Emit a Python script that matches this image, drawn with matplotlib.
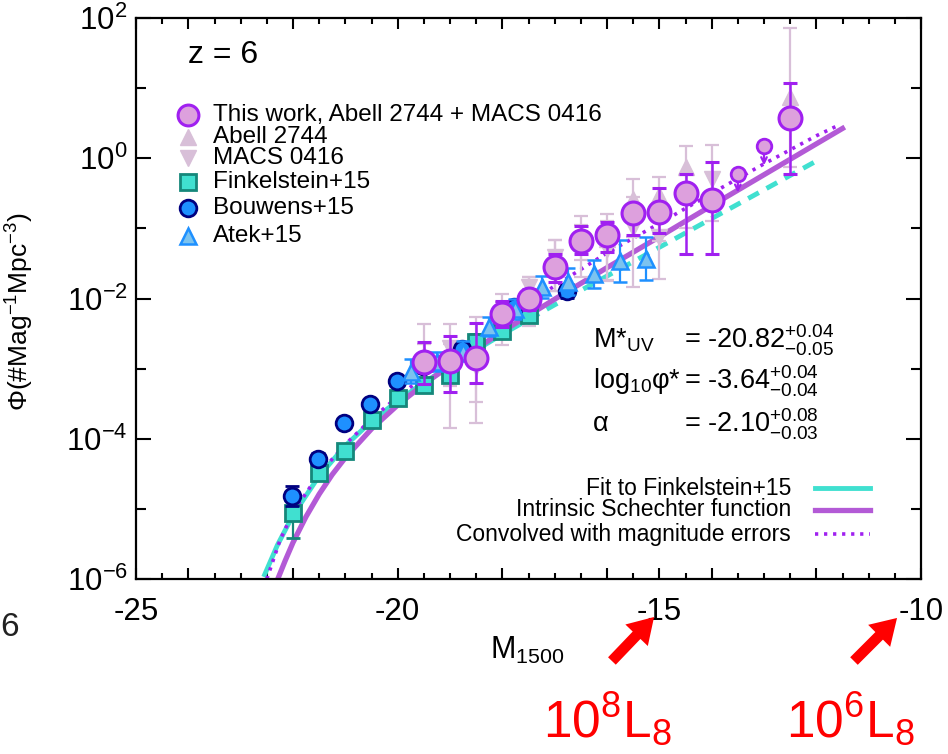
import numpy as np
import matplotlib
matplotlib.use('Agg')
import matplotlib.pyplot as plt
from matplotlib.lines import Line2D
from matplotlib.ticker import FixedLocator, NullFormatter, FixedFormatter

plt.rcParams['font.family'] = ['Liberation Sans', 'DejaVu Sans']
plt.rcParams['mathtext.fontset'] = 'custom'
plt.rcParams['mathtext.rm'] = 'Liberation Sans'
plt.rcParams['mathtext.it'] = 'Liberation Sans:italic'
plt.rcParams['mathtext.bf'] = 'Liberation Sans:bold'
plt.rcParams['mathtext.sf'] = 'Liberation Sans'

# ---------------- data (log10 Phi) ----------------
this_M = [-19.5, -19.0, -18.5, -18.0, -17.5, -17.0, -16.5, -16.0, -15.5, -15.0, -14.5, -14.0, -12.5]
this_logphi = [-2.91, -2.89, -2.85, -2.22, -2.01, -1.55, -1.18, -1.10, -0.78, -0.77, -0.50, -0.60, 0.57]
this_up = [0.29, 0.35, 0.50, 0.19, 0.15, 0.19, 0.22, 0.19, 0.13, 0.34, 0.28, 0.55, 0.51]
this_dn = [0.31, 0.45, 0.35, 0.19, 0.16, 0.22, 0.19, 0.24, 0.32, 0.30, 0.86, 0.76, 0.79]

lim_M = [-13.5, -13.0]
lim_logphi = [-0.22, 0.17]

abell_M = [-19.5, -19.0, -18.5, -18.0, -17.5, -17.0, -16.5, -16.0, -15.5, -15.0, -14.5, -12.5]
abell_logphi = [-2.80, -2.95, -2.80, -2.15, -1.95, -1.50, -1.05, -1.15, -0.58, -0.53, -0.12, 0.88]
abell_up = [0.43, 0.30, 0.53, 0.21, 0.26, 0.34, 0.23, 0.36, 0.28, 0.26, 0.29, 0.98]
abell_dn = [0.50, 0.30, 0.97, 0.30, 0.33, 0.40, 0.40, 0.60, 0.55, 0.65, 0.88, 1.00]

macs_M = [-19.5, -19.0, -18.5, -18.0, -17.5, -17.0, -16.5, -16.0, -15.5, -15.0, -14.0]
macs_logphi = [-2.95, -2.70, -2.98, -2.35, -1.84, -1.41, -1.25, -1.30, -1.00, -1.12, -0.29]
macs_up = [0.30, 0.33, 0.40, 0.30, 0.15, 0.24, 0.30, 0.40, 0.45, 0.45, 0.48]
macs_dn = [0.35, 1.15, 0.50, 0.32, 0.55, 0.48, 0.45, 0.44, 0.84, 0.60, 0.60]

fink_M = [-22.0, -21.5, -21.0, -20.5, -20.0, -19.5, -19.0, -18.5, -18.0, -17.5]
fink_logphi = [-5.06, -4.49, -4.17, -3.73, -3.42, -3.24, -3.09, -2.62, -2.46, -2.24]
fink_up = [0.22, 0.10, 0.06, 0.06, 0.05, 0.05, 0.10, 0.12, 0.08, 0.08]
fink_dn = [0.35, 0.10, 0.06, 0.06, 0.05, 0.05, 0.10, 0.12, 0.08, 0.08]

bouw_M = [-22.02, -21.52, -21.02, -20.52, -20.02, -19.52, -18.77, -17.77, -16.77]
bouw_logphi = [-4.82, -4.29, -3.77, -3.50, -3.17, -2.96, -2.72, -2.12, -1.89]
bouw_err = [0.14, 0.08, 0.05, 0.05, 0.05, 0.06, 0.07, 0.08, 0.10]

atek_M = [-19.75, -19.25, -18.75, -18.25, -17.75, -17.25, -16.75, -16.25, -15.75, -15.25]
atek_logphi = [-3.05, -2.91, -2.76, -2.40, -2.15, -1.84, -1.77, -1.65, -1.46, -1.43]
atek_up = [0.19, 0.15, 0.15, 0.14, 0.15, 0.16, 0.20, 0.20, 0.30, 0.30]
atek_dn = [0.15, 0.13, 0.13, 0.13, 0.14, 0.15, 0.18, 0.20, 0.30, 0.30]

# curves
fitF_M = [-22.56, -22.3, -22.0, -21.5, -21.0, -20.5, -20.0, -19.5, -19.0, -18.0, -17.5]
fitF_logphi = [-5.97, -5.52, -5.09, -4.53, -4.10, -3.75, -3.46, -3.20, -2.96, -2.51, -2.30]
fitF_dash_M = [-17.5, -17.0, -16.0, -15.0, -14.0, -13.0, -12.0]
fitF_dash_logphi = [-2.30, -2.09, -1.68, -1.27, -0.86, -0.45, -0.04]

intr_M = [-22.28, -22.15, -22.0, -21.75, -21.5, -21.25, -21.0, -20.5, -20.0, -19.5, -19.0,
          -18.0, -17.0, -16.0, -15.0, -14.0, -13.0, -12.0, -11.5]
intr_logphi = [-5.98, -5.74, -5.48, -5.11, -4.79, -4.51, -4.27, -3.86, -3.52, -3.22, -2.96,
               -2.47, -2.01, -1.56, -1.12, -0.675, -0.235, 0.205, 0.425]

conv_M = [-22.5, -22.25, -22.0, -21.5, -21.0, -20.5, -20.0, -19.5, -19.0, -18.0, -17.0,
          -16.0, -15.0, -14.0, -13.0, -12.0, -11.55]
conv_logphi = [-6.0, -5.45, -5.05, -4.50, -4.08, -3.72, -3.40, -3.12, -2.85, -2.33, -1.82,
               -1.35, -0.93, -0.50, -0.08, 0.32, 0.48]

# ---------------- figure ----------------
W, H = 948, 754
fig = plt.figure(figsize=(W / 100, H / 100), dpi=100)
fx = lambda px: px / W
fy = lambda py: 1 - py / H
ax = fig.add_axes([fx(136), fy(579), fx(921) - fx(136), fy(18) - fy(579)])
ax.set_yscale('log')
ax.set_xlim(-25, -10)
ax.set_ylim(1e-6, 1e2)


def lin(v):
    return 10 ** np.asarray(v, dtype=float)


def aerr(logy, up, dn):
    ly = np.asarray(logy, float)
    return [10 ** ly - 10 ** (ly - np.asarray(dn)), 10 ** (ly + np.asarray(up)) - 10 ** ly]


PURPLE = '#a020f0'
PLUM = '#dda0dd'
THISTLE = '#d8bfd8'
TEAL = '#40e0d0'
DTEAL = '#15877a'
ORCHID = '#b35ad6'

# curves
ax.plot(fitF_M, lin(fitF_logphi), color=TEAL, lw=3.5, zorder=2, solid_capstyle='butt')
ax.plot(fitF_dash_M, lin(fitF_dash_logphi), color=TEAL, lw=3.5, ls=(0, (2.5, 1.8)), zorder=2)
ax.plot(intr_M, lin(intr_logphi), color=ORCHID, lw=3.8, zorder=2.1)
ax.plot(conv_M, lin(conv_logphi), color=PURPLE, lw=2.6, ls=(0, (0.9, 1.6)), zorder=2.2)

# lensing-field points (background)
ax.errorbar(abell_M, lin(abell_logphi), yerr=aerr(abell_logphi, abell_up, abell_dn), fmt='^',
            ms=11, mfc=THISTLE, mec=THISTLE, ecolor=THISTLE, elinewidth=1.6, capsize=5,
            capthick=1.6, zorder=3)
ax.errorbar(macs_M, lin(macs_logphi), yerr=aerr(macs_logphi, macs_up, macs_dn), fmt='v',
            ms=11, mfc=THISTLE, mec=THISTLE, ecolor=THISTLE, elinewidth=1.6, capsize=5,
            capthick=1.6, zorder=3)

ax.errorbar(fink_M, lin(fink_logphi), yerr=aerr(fink_logphi, fink_up, fink_dn), fmt='s',
            ms=12, mfc=TEAL, mec=DTEAL, mew=2, ecolor=DTEAL, elinewidth=1.6, capsize=5,
            capthick=1.6, zorder=4)
ax.errorbar(bouw_M, lin(bouw_logphi), yerr=aerr(bouw_logphi, bouw_err, bouw_err), fmt='o',
            ms=12, mfc='#1e90ff', mec='#000080', mew=2, ecolor='#000080', elinewidth=1.6,
            capsize=5, capthick=1.6, zorder=5)
ax.errorbar(atek_M, lin(atek_logphi), yerr=aerr(atek_logphi, atek_up, atek_dn), fmt='^',
            ms=11, mfc='#7cc3ef', mec='#1e90ff', mew=1.8, ecolor='#1e90ff', elinewidth=1.6,
            capsize=5, capthick=1.6, zorder=6)
ax.errorbar(this_M, lin(this_logphi), yerr=aerr(this_logphi, this_up, this_dn), fmt='o',
            ms=16.5, mfc=PLUM, mec=PURPLE, mew=2.2, ecolor=PURPLE, elinewidth=1.8, capsize=5,
            capthick=1.8, zorder=7)
# upper limits
ax.plot(lim_M, lin(lim_logphi), 'o', ms=10.5, mfc=PLUM, mec=PURPLE, mew=2, zorder=7)
for m, lp in zip(lim_M, lim_logphi):
    ax.annotate('', xy=(m, 10 ** (lp - 0.27)), xytext=(m, 10 ** lp),
                arrowprops=dict(arrowstyle='->', color=PURPLE, lw=1.6, shrinkA=5, shrinkB=0,
                                mutation_scale=10), zorder=6.9)

# ticks
ax.xaxis.set_major_locator(FixedLocator([-25, -24, -22, -20, -18, -16, -15, -14, -12, -10]))
ax.xaxis.set_major_formatter(FixedFormatter(['-25', '', '', '-20', '', '', '-15', '', '', '-10']))
ax.xaxis.set_minor_locator(FixedLocator(np.arange(-25, -9.9, 0.5)))
yt = [1e-6, 1e-4, 1e-2, 1e0, 1e2]
ax.yaxis.set_major_locator(FixedLocator(yt))
ax.yaxis.set_major_formatter(FixedFormatter([r'$10^{-6}$', r'$10^{-4}$', r'$10^{-2}$',
                                             r'$10^{0}$', r'$10^{2}$']))
ax.yaxis.set_minor_locator(FixedLocator([1e-5, 1e-3, 1e-1, 1e1]))
ax.yaxis.set_minor_formatter(NullFormatter())
ax.tick_params(axis='both', which='both', direction='in', top=True, right=True, width=1.5,
               color='black')
ax.tick_params(axis='x', which='major', length=8, labelsize=22.5, pad=13)
ax.tick_params(axis='x', which='minor', length=4.5)
ax.tick_params(axis='y', which='major', length=11, labelsize=22.5, pad=6)
ax.tick_params(axis='y', which='minor', length=7)
for s in ax.spines.values():
    s.set_linewidth(1.6)

# texts
fig.text(fx(188), fy(55), 'z = 6', fontsize=23, va='center', ha='left')

leg = [
    ('This work, Abell 2744 + MACS 0416', 115, dict(marker='o', ms=15, mfc=PLUM, mec=PURPLE, mew=2.2)),
    ('Abell 2744', 137, dict(marker='^', ms=12, mfc=THISTLE, mec=THISTLE)),
    ('MACS 0416', 158, dict(marker='v', ms=12, mfc=THISTLE, mec=THISTLE)),
    ('Finkelstein+15', 182, dict(marker='s', ms=12, mfc=TEAL, mec=DTEAL, mew=2)),
    ('Bouwens+15', 208, dict(marker='o', ms=12, mfc='#1e90ff', mec='#000080', mew=2)),
    ('Atek+15', 236, dict(marker='^', ms=12, mfc='#7cc3ef', mec='#1e90ff', mew=1.8)),
]
for label, py, kw in leg:
    fig.add_artist(Line2D([fx(188)], [fy(py)], transform=fig.transFigure, ls='none', **kw))
    fig.text(fx(213), fy(py), label, fontsize=17.5, va='center', ha='left')

leg2 = [
    ('Fit to Finkelstein+15', 488, dict(color=TEAL, lw=3.5)),
    ('Intrinsic Schechter function', 510, dict(color=ORCHID, lw=3.8)),
    ('Convolved with magnitude errors', 534, dict(color=PURPLE, lw=2.6, ls=(0, (0.9, 1.6)))),
]
for label, py, kw in leg2:
    fig.text(fx(791), fy(py), label, fontsize=16.5, va='center', ha='right')
    fig.add_artist(Line2D([fx(815), fx(870)], [fy(py), fy(py)], transform=fig.transFigure, **kw))

rows = [
    (r'M*$_{\rm UV}$', r'= -20.82$^{+0.04}_{-0.05}$', 340),
    (r'log$_{10}$φ*', r'= -3.64$^{+0.04}_{-0.04}$', 381),
    ('α', r'= -2.10$^{+0.08}_{-0.03}$', 424),
]
for lab, val, py in rows:
    fig.text(fx(593), fy(py), lab, fontsize=19.5, va='center', ha='left')
    fig.text(fx(684), fy(py), val, fontsize=19.5, va='center', ha='left')

fig.text(fx(20), fy(312), r'$\Phi$(#Mag$^{-1}$Mpc$^{-3}$)', fontsize=19, rotation=90,
         va='center', ha='center')
fig.text(fx(490), fy(650), r'M$_{1500}$', fontsize=22, va='center', ha='left')
fig.text(fx(0), fy(628), '6', fontsize=24, va='center', ha='left', color='#222222')

RED = '#ff0000'
fig.text(fx(543), fy(737), r'10$^{8}$L$_{8}$', fontsize=37, color=RED, va='baseline',
         ha='left')
fig.text(fx(786), fy(737), r'10$^{6}$L$_{8}$', fontsize=37, color=RED, va='baseline',
         ha='left')
for (x0, y0, x1, y1) in [(610, 663, 656, 615), (852, 663, 899, 616)]:
    fig.add_artist(matplotlib.patches.FancyArrowPatch(
        (fx(x0), fy(y0)), (fx(x1), fy(y1)), transform=fig.transFigure,
        arrowstyle='simple,head_width=1.6,head_length=1.3,tail_width=0.55',
        mutation_scale=14, color=RED, lw=0))

fig.savefig('out.png', dpi=100)
